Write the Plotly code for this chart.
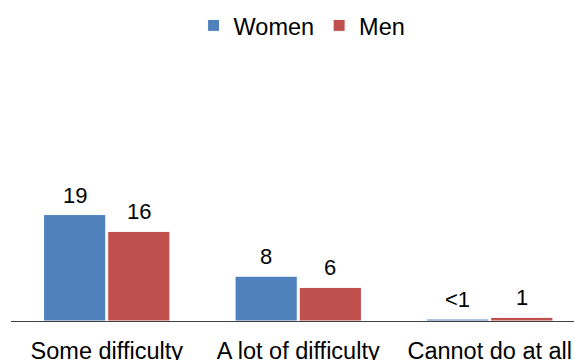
import plotly.graph_objects as go

categories = ["Some difficulty", "A lot of difficulty", "Cannot do at all"]
women = [19, 8, 0.35]
men = [16, 6, 0.65]
women_labels = ["19", "8", "<1"]
men_labels = ["16", "6", "1"]

BLUE = "#4F81BD"
RED = "#C0504D"
FONT = "Liberation Sans, Arial, sans-serif"

fig = go.Figure()
fig.add_trace(go.Bar(name="Women", x=categories, y=women, marker=dict(color=BLUE, line=dict(color="white", width=1))))
fig.add_trace(go.Bar(name="Men", x=categories, y=men, marker=dict(color=RED, line=dict(color="white", width=1))))

annotations = []
for series, labels, shift in ((women, women_labels, -32), (men, men_labels, 32)):
    for cat, val, lab in zip(categories, series, labels):
        annotations.append(dict(x=cat, y=val, xref="x", yref="y", text=lab, showarrow=False,
                                xshift=shift, yshift=5, yanchor="bottom",
                                font=dict(family=FONT, size=22, color="black")))

fig.update_layout(
    width=574, height=360,
    margin=dict(l=11, r=0, t=60, b=39, autoexpand=False),
    paper_bgcolor="white", plot_bgcolor="white",
    barmode="group", bargap=0.33, bargroupgap=0.03,
    font=dict(family=FONT, size=23.5, color="black"),
    showlegend=True,
    legend=dict(orientation="h", x=0.517, xanchor="center", y=0.99, yanchor="top",
                yref="container", font=dict(size=23.5)),
    annotations=annotations,
    xaxis=dict(range=[-0.5, 2.44], showline=True, linecolor="#404040", linewidth=1,
               ticks="", showgrid=False, zeroline=False, tickfont=dict(size=23.5),
               ticklabelstandoff=9, automargin=False),
    yaxis=dict(range=[0, 46.6], visible=False, showgrid=False, zeroline=False, automargin=False),
)

fig.write_html("out.html", config={"displayModeBar": False},
               post_script="document.body.style.margin='0';document.body.style.overflow='hidden';")
